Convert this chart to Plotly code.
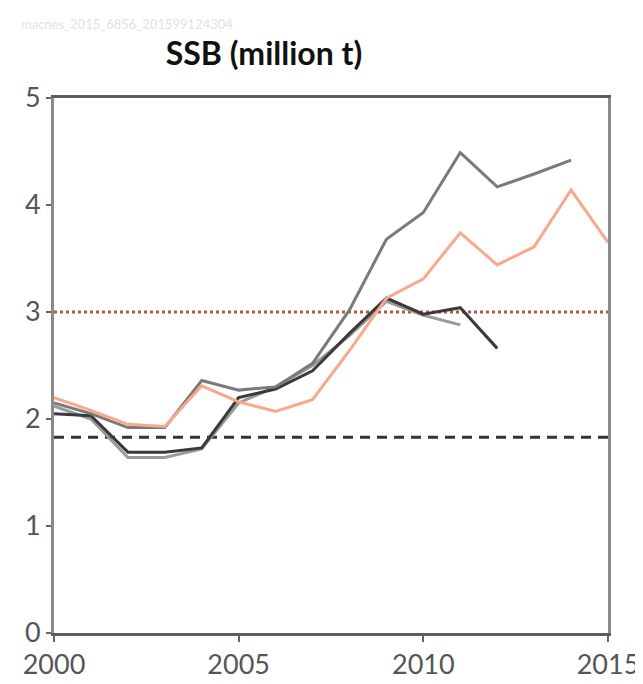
import plotly.graph_objects as go

# retrospective SSB estimates (million t), one series per assessment year
years_2011 = [2000, 2001, 2002, 2003, 2004, 2005, 2006, 2007, 2008, 2009, 2010, 2011]
ssb_2011 = [2.12, 2.0, 1.64, 1.64, 1.72, 2.15, 2.3, 2.5, 2.78, 3.1, 2.97, 2.88]

years_2012 = [2000, 2001, 2002, 2003, 2004, 2005, 2006, 2007, 2008, 2009, 2010, 2011, 2012]
ssb_2012 = [2.05, 2.03, 1.69, 1.69, 1.73, 2.2, 2.28, 2.45, 2.8, 3.13, 2.98, 3.04, 2.66]

years_2014 = [2000, 2001, 2002, 2003, 2004, 2005, 2006, 2007, 2008, 2009, 2010, 2011, 2012, 2013, 2014]
ssb_2014 = [2.15, 2.05, 1.92, 1.92, 2.36, 2.27, 2.3, 2.52, 3.02, 3.68, 3.93, 4.49, 4.17, 4.29, 4.42]

years_2015 = [2000, 2001, 2002, 2003, 2004, 2005, 2006, 2007, 2008, 2009, 2010, 2011, 2012, 2013, 2014, 2015]
ssb_2015 = [2.2, 2.08, 1.95, 1.93, 2.31, 2.16, 2.07, 2.18, 2.64, 3.13, 3.31, 3.74, 3.44, 3.61, 4.14, 3.65]

ref_years = [2000, 2015]
bpa = 3.0
blim = 1.83

fig = go.Figure()

fig.add_trace(go.Scatter(x=ref_years, y=[bpa, bpa], mode="lines",
                         line=dict(color="#b4583a", width=3, dash="dot")))
fig.add_trace(go.Scatter(x=ref_years, y=[blim, blim], mode="lines",
                         line=dict(color="#333333", width=3, dash="10px,7px")))

fig.add_trace(go.Scatter(x=years_2011, y=ssb_2011, mode="lines",
                         line=dict(color="#9a9a9a", width=3)))
fig.add_trace(go.Scatter(x=years_2012, y=ssb_2012, mode="lines",
                         line=dict(color="#3a3a3a", width=3)))
fig.add_trace(go.Scatter(x=years_2014, y=ssb_2014, mode="lines",
                         line=dict(color="#7a7a7a", width=3)))
fig.add_trace(go.Scatter(x=years_2015, y=ssb_2015, mode="lines",
                         line=dict(color="#f9a88e", width=3)))

fig.update_layout(
    width=643, height=684,
    margin=dict(l=46, r=34, t=90, b=51),
    plot_bgcolor="white", paper_bgcolor="white",
    showlegend=False,
    font=dict(family="Lato", color="#555555"),
    title=dict(text="<b>SSB (million t)</b>", x=256 / 643, xanchor="center",
               y=1 - 46 / 684, yanchor="middle",
               font=dict(size=32, color="#111111", family="Lato")),
)
fig.update_xaxes(range=[2000, 2015], tickvals=[2000, 2005, 2010, 2015],
                 showgrid=False, zeroline=False,
                 showline=True, linecolor="#5e5e5e", linewidth=3, mirror=True,
                 ticks="outside", ticklen=6, tickcolor="#666666", tickwidth=2,
                 tickfont=dict(size=27, color="#555555"))
fig.update_yaxes(range=[0, 5], tickvals=[0, 1, 2, 3, 4, 5],
                 showgrid=False, zeroline=False,
                 showline=True, linecolor="#8a8a8a", linewidth=3, mirror=True,
                 ticks="outside", ticklen=5, tickcolor="#666666", tickwidth=2,
                 tickfont=dict(size=27, color="#555555"))

fig.add_annotation(text="macnes_2015_6856_201599124304", xref="paper", yref="paper",
                   x=-36 / 563, y=1 + 75 / 543, xanchor="left", yanchor="middle",
                   showarrow=False, font=dict(size=13, color="#e2e2e2"))

fig.write_html("out.html")
